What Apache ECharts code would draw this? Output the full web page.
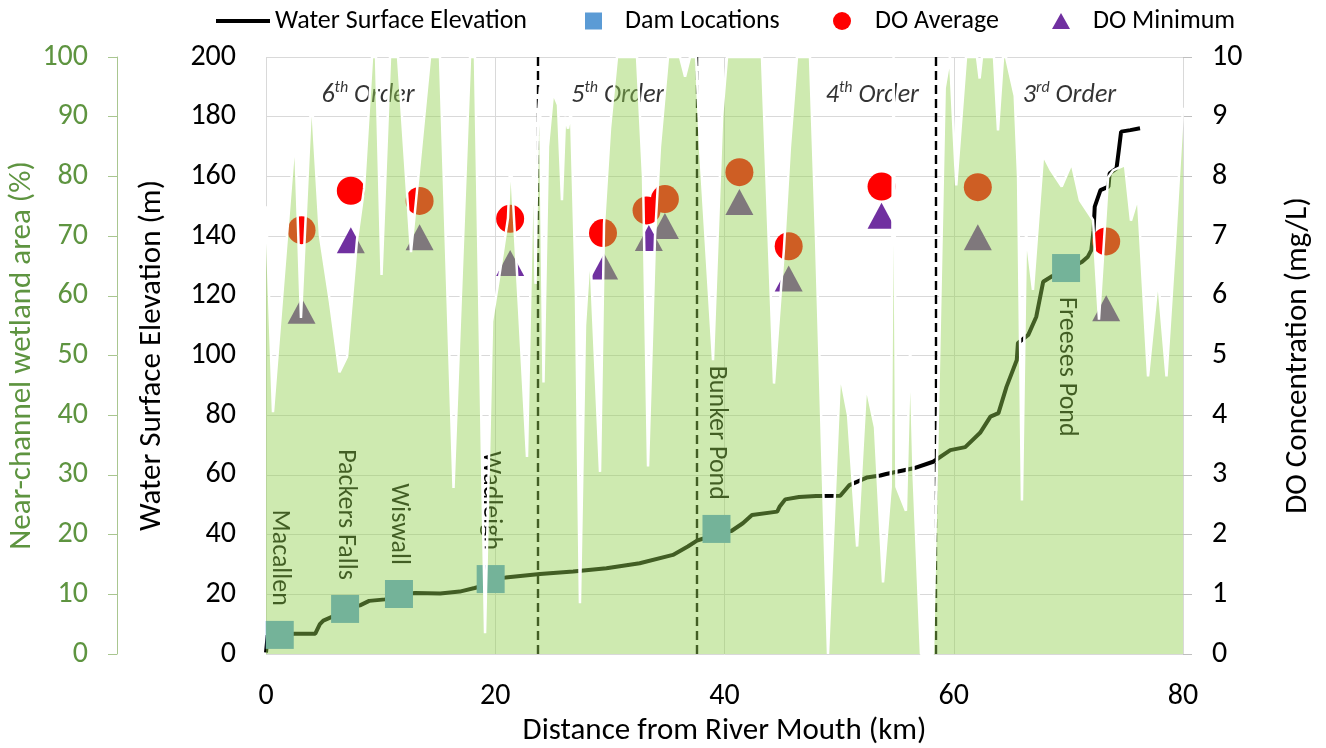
<!DOCTYPE html>
<html><head><meta charset="utf-8">
<script src="https://cdn.jsdelivr.net/npm/echarts@6/dist/echarts.min.js"></script>
<style>html,body{margin:0;padding:0;background:#fff}#c{width:1326px;height:748px}</style>
</head><body><div id="c"></div>
<script>
// ---------- DATA ----------
const wetKm  = [0.00,0.61,2.53,3.05,3.97,4.71,5.58,6.41,7.07,7.94,8.55,9.25,9.60,10.08,10.82,11.52,12.65,14.31,15.18,16.36,17.80,18.23,19.11,19.72,20.41,21.11,21.33,22.07,22.77,23.21,23.38,23.51,23.73,23.90,24.21,24.60,25.04,25.47,25.82,26.09,26.35,26.61,27.04,27.39,27.83,28.27,29.14,29.49,30.01,30.62,32.37,32.89,33.33,33.94,34.37,35.07,36.12,36.56,36.99,37.52,37.86,39.00,39.79,40.22,43.27,44.32,45.19,45.71,46.32,47.46,47.98,49.03,50.08,50.78,51.57,52.35,53.13,53.83,54.50,54.75,55.00,55.83,56.20,56.50,57.14,58.19,59.21,59.67,60.22,61.07,62.03,62.26,62.46,63.51,63.86,64.30,64.56,65.32,65.61,65.95,66.30,66.91,67.79,68.48,69.42,70.29,71.01,72.15,72.67,73.46,73.90,74.94,75.46,76.07,76.95,77.82,78.56,79.30,80.00];
const wetPct = [75,40.5,87,56.3,94,70,59,47.2,49.8,69.4,77.9,100,100,63.5,100,100,67.3,100,100,27.8,100,100,3.5,55.7,64,73,83.5,58,33,75,85,62,90,95,45.5,85,94,92,76,90,88,91,60,8.5,55,68,30.5,72,88,100,100,80,31.4,70,85,100,100,96.7,100,100,85,49.2,90,100,100,45.3,68,85,100,100,70,0,47,40,18,45,38,12,28,100,28,24,52,30,0,0,94.8,100,78.5,100,100,96.4,100,100,87.7,100,100,93.5,80,25.7,70.7,61,83.6,81,78.3,82.2,76,72.7,56,79.8,81,81.9,72.6,76.5,46.5,63,46.5,68.7,91.5];

const elevKm = [0,0.15,1.2,2.5,4.3,4.7,5.0,5.8,6.9,7.6,8.2,9.0,10.4,11.6,13.0,15.2,16.9,18.2,19.3,19.6,20.9,23.9,26.8,29.7,32.6,35.5,36.8,37.6,38.1,39.3,40.6,41.6,42.4,44.6,44.8,45.3,46.5,48.0,50.1,50.9,52.4,53.6,54.1,56.5,58.2,59.7,61.0,62.3,63.2,63.9,64.6,65.5,65.6,66.5,67.2,67.8,68.5,69.8,71.2,71.7,72.0,72.2,72.3,72.8,73.5,73.6,74.2,74.4,74.6,75.4,76.25];
const elevM  = [0.5,6.3,6.5,6.8,6.8,10,11.2,12.5,14.5,15.8,16.3,17.8,18.3,19.8,20.4,20.3,20.9,22.1,23.2,25.2,25.6,26.8,27.6,28.7,30.4,33.2,36,38,38.6,40.5,41.2,43.8,46.6,47.7,49.3,51.8,52.6,52.9,53.0,56.6,59.1,59.8,60.3,62.2,64.4,68.3,69.3,74.1,79.5,80.7,89.5,98.5,104.2,106.9,113,124.7,126.4,128.5,131.4,133.1,135.3,142,149.9,155.4,156.6,161,162.7,168.8,175,175.5,176.1];

const damNames = ['Macallen','Packers Falls','Wiswall','Wadleigh','Bunker Pond','Freeses Pond'];
const damKm    = [1.2, 6.9, 11.6, 19.6, 39.3, 69.8];
const damM     = [6.4, 15.1, 20.1, 25.1, 41.9, 129.3];

const doAvgKm = [3.1, 7.4, 13.4, 21.3, 29.4, 33.2, 34.8, 41.3, 45.6, 53.7, 62.1, 73.3];
const doAvg   = [7.10, 7.76, 7.59, 7.29, 7.05, 7.43, 7.62, 8.07, 6.83, 7.83, 7.82, 6.91];
const doMinKm = [3.1, 7.4, 13.4, 21.3, 29.5, 33.4, 34.8, 41.3, 45.6, 53.7, 62.1, 73.3];
const doMin   = [5.75, 6.93, 6.98, 6.55, 6.49, 6.97, 7.17, 7.57, 6.29, 7.34, 6.98, 5.79];

const orderNum = ['6', '5', '4', '3'];
const orderSup = ['th', 'th', 'th', 'rd'];
const orderKm  = [8.9, 30.7, 52.9, 70.1];
const orderDividerKm = [23.75, 37.6, 58.45];

const xTicks = [0, 20, 40, 60, 80];

// ---------- CHART ----------
const FONT = 'Carlito, Calibri, Lato, sans-serif';
const chart = echarts.init(document.getElementById('c'), null, {renderer: 'canvas'});
const legendText = {fontSize: 26, color: '#000', fontFamily: FONT};
const TICK = 30, TITLE = 31;

const option = {
  animation: false,
  backgroundColor: '#fff',
  textStyle: {fontFamily: FONT},
  grid: {left: 266, right: 143, top: 57, bottom: 94, containLabel: false, outerBoundsMode: 'none'},
  legend: [
    {data: ['Water Surface Elevation'], left: 211, top: 3, icon: 'rect', itemWidth: 54, itemHeight: 4, selectedMode: false, textStyle: legendText},
    {data: ['Dam Locations'], left: 580, top: 3, icon: 'rect', itemWidth: 17, itemHeight: 17, selectedMode: false, textStyle: Object.assign({padding: [0, 0, 0, 18]}, legendText)},
    {data: ['DO Average'], left: 828, top: 3, icon: 'circle', itemWidth: 18, itemHeight: 18, selectedMode: false, textStyle: Object.assign({padding: [0, 0, 0, 19]}, legendText)},
    {data: ['DO Minimum'], left: 1047, top: 3, icon: 'triangle', itemWidth: 18, itemHeight: 16, selectedMode: false, textStyle: Object.assign({padding: [0, 0, 0, 18]}, legendText)}
  ],
  xAxis: {
    type: 'value', min: xTicks[0], max: xTicks[xTicks.length - 1], interval: 20,
    name: 'Distance from River Mouth (km)', nameLocation: 'middle', nameGap: 62, nameMoveOverlap: false,
    nameTextStyle: {fontSize: TITLE, color: '#000', fontFamily: FONT},
    axisLine: {show: false}, axisTick: {show: false},
    axisLabel: {fontSize: TICK, color: '#000', margin: 27, fontFamily: FONT},
    splitLine: {show: true, lineStyle: {color: '#D9D9D9', width: 1}}
  },
  yAxis: [
    {
      type: 'value', min: 0, max: 200, interval: 20, position: 'left',
      name: 'Water Surface Elevation (m)', nameLocation: 'middle', nameGap: 98, nameMoveOverlap: false,
      nameTextStyle: {fontSize: TITLE, color: '#000', fontFamily: FONT},
      axisLine: {show: false}, axisTick: {show: false},
      axisLabel: {fontSize: TICK, color: '#000', margin: 30, fontFamily: FONT},
      splitLine: {show: true, lineStyle: {color: '#D9D9D9', width: 1}}
    },
    {
      type: 'value', min: 0, max: 100, interval: 10, position: 'left', offset: 149,
      name: 'Near-channel wetland area (%)', nameLocation: 'middle', nameGap: 79, nameMoveOverlap: false,
      nameTextStyle: {fontSize: TITLE, color: '#5E9440', fontFamily: FONT},
      axisLine: {show: true, lineStyle: {color: '#A9C690', width: 1}},
      axisTick: {show: true, inside: false, length: 9, lineStyle: {color: '#A9C690'}},
      axisLabel: {fontSize: TICK, color: '#5E9440', margin: 29, fontFamily: FONT},
      splitLine: {show: false}
    },
    {
      type: 'value', min: 0, max: 10, interval: 1, position: 'right',
      name: 'DO Concentration (mg/L)', nameLocation: 'middle', nameGap: 100, nameMoveOverlap: false,
      nameTextStyle: {fontSize: TITLE, color: '#000', fontFamily: FONT},
      axisLine: {show: false},
      axisTick: {show: true, inside: false, length: 9, lineStyle: {color: '#BFBFBF'}},
      axisLabel: {fontSize: TICK, color: '#000', margin: 29, fontFamily: FONT},
      splitLine: {show: false}
    }
  ],
  series: [
    {
      name: 'Water Surface Elevation', type: 'line', yAxisIndex: 0, z: 3,
      symbol: 'none', smooth: false,
      lineStyle: {color: '#000', width: 4},
      itemStyle: {color: '#000'},
      data: elevKm.map((k, i) => [k, elevM[i]]),
      markLine: {
        silent: true, symbol: ['none', 'none'], label: {show: false},
        lineStyle: {color: '#000', width: 2.4, type: [9, 5]},
        data: orderDividerKm.map(k => ({xAxis: k}))
      }
    },
    {
      name: 'Dam Locations', type: 'scatter', yAxisIndex: 0, z: 4,
      symbol: 'rect', symbolSize: 28,
      itemStyle: {color: '#5B9BD5', opacity: 1},
      label: {
        show: true, formatter: '{b}', position: 'top', distance: 15,
        rotate: -90, align: 'right', verticalAlign: 'middle',
        fontSize: 26, color: '#000', fontFamily: FONT
      },
      data: damKm.map((k, i) => {
        const d = {name: damNames[i], value: [k, damM[i]]};
        if (i === damKm.length - 1) d.label = {position: 'bottom', align: 'left'};
        return d;
      })
    },
    {
      name: 'DO Average', type: 'scatter', yAxisIndex: 2, z: 5,
      symbol: 'circle', symbolSize: 28,
      itemStyle: {color: '#FF0000', opacity: 1},
      data: doAvgKm.map((k, i) => [k, doAvg[i]])
    },
    {
      name: 'DO Minimum', type: 'scatter', yAxisIndex: 2, z: 5,
      symbol: 'triangle', symbolSize: [28, 26],
      itemStyle: {color: '#7030A0', opacity: 1},
      data: doMinKm.map((k, i) => [k, doMin[i]])
    },
    {
      name: 'Stream order', type: 'scatter', yAxisIndex: 0, z: 6, silent: true,
      symbolSize: 1, itemStyle: {color: 'rgba(0,0,0,0)'},
      label: {
        show: true, position: 'inside',
        formatter: p => '{n|' + p.data.num + '}{s|' + p.data.sup + '}{o| Order}',
        rich: {
          n: {fontSize: 26, fontStyle: 'italic', color: '#000', lineHeight: 32, fontFamily: FONT},
          s: {fontSize: 16, fontStyle: 'italic', color: '#000', lineHeight: 22, verticalAlign: 'top', fontFamily: FONT},
          o: {fontSize: 26, fontStyle: 'italic', color: '#000', lineHeight: 32, fontFamily: FONT}
        }
      },
      data: orderKm.map((k, i) => ({value: [k, 187], num: orderNum[i], sup: orderSup[i]}))
    },
    {
      name: 'Near-channel wetland area', type: 'line', yAxisIndex: 1, z: 10,
      symbol: 'none', smooth: false, silent: true,
      lineStyle: {color: '#FFFFFF', width: 2.5},
      areaStyle: {color: '#92D050', opacity: 0.45},
      data: wetKm.map((k, i) => [k, wetPct[i]])
    }
  ]
};
chart.setOption(option);
</script>
</body></html>
